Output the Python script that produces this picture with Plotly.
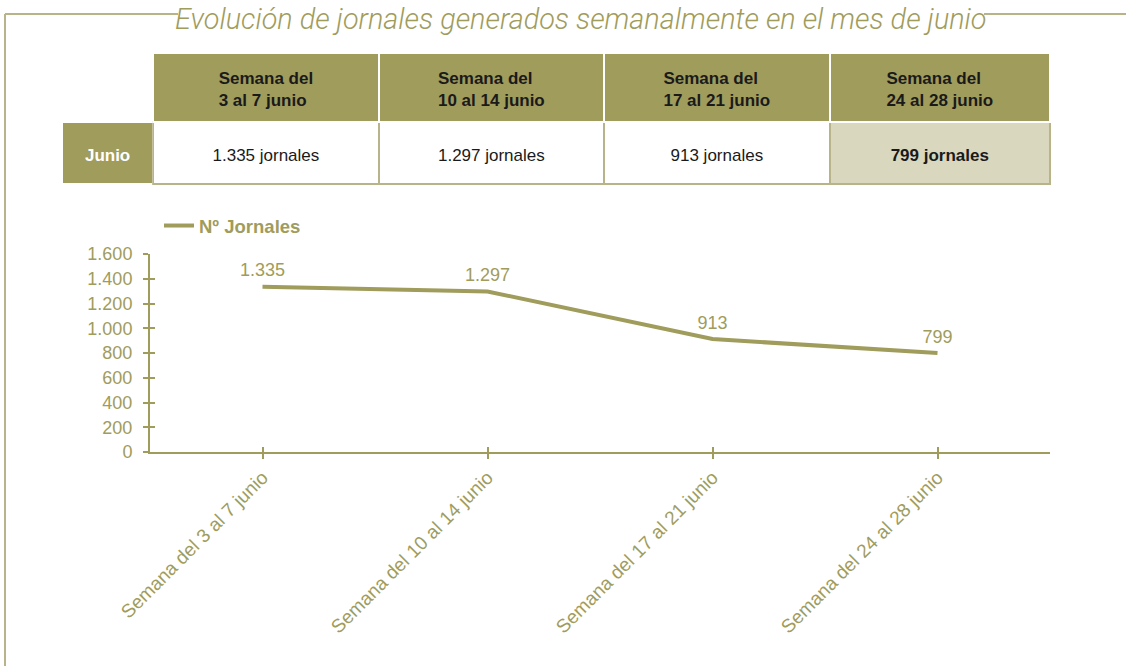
import plotly.graph_objects as go

# ---- data ----
semanas = ["Semana del 3 al 7 junio", "Semana del 10 al 14 junio",
           "Semana del 17 al 21 junio", "Semana del 24 al 28 junio"]
header_labels = ["Semana del<br>3 al 7 junio", "Semana del<br>10 al 14 junio",
                 "Semana del<br>17 al 21 junio", "Semana del<br>24 al 28 junio"]
jornales = [1335, 1297, 913, 799]
row_label = "Junio"
serie_nombre = "Nº Jornales"
titulo = "Evolución de jornales generados semanalmente en el mes de junio"
y_ticks = [0, 200, 400, 600, 800, 1000, 1200, 1400, 1600]

W, H = 1126, 666
OLIVE = "#A09C5C"
OLIVE_LINE = "#B8B48A"
BEIGE = "#D9D7BD"
TEXT = "#1A1A1A"
FONT = "Liberation Sans, Arial"

def px(x):
    return x / W

def py(y):
    return 1 - y / H

def fmt(v):
    return f"{v:,}".replace(",", ".")

# a tiny leading line pushes the text down inside the table cells
def pad(text, size):
    return f'<span style="font-size:{size}px">&nbsp;</span><br>' + text

header_vals = [""] + [pad("<b>" + h + "</b>", 1) for h in header_labels]
cell_vals = ([[pad("<b>" + row_label + "</b>", 10)]]
             + [[pad(f"{fmt(v)} jornales", 10)] for v in jornales[:-1]]
             + [[pad("<b>" + f"{fmt(jornales[-1])} jornales</b>", 10)]])

fig = go.Figure()

fig.add_trace(go.Table(
    domain=dict(x=[px(62), px(1050)], y=[py(187), py(53)]),
    columnwidth=[91, 225, 225, 225, 220],
    header=dict(
        values=header_vals,
        fill_color=["white"] + [OLIVE] * 4,
        line=dict(color="white", width=2),
        font=dict(family=FONT, size=17, color=TEXT),
        align="center",
        height=69,
    ),
    cells=dict(
        values=cell_vals,
        fill_color=[OLIVE, "white", "white", "white", BEIGE],
        line=dict(color=["white", OLIVE_LINE, OLIVE_LINE, OLIVE_LINE, OLIVE_LINE], width=2),
        font=dict(family=FONT, size=17, color=["white", TEXT, TEXT, TEXT, TEXT]),
        align="center",
        height=62,
    ),
))

xs = list(range(len(semanas)))
fig.add_trace(go.Scatter(
    x=xs, y=jornales, mode="lines+markers+text", name=serie_nombre,
    line=dict(color=OLIVE, width=4),
    marker=dict(size=8, color="rgba(0,0,0,0)"),
    text=[fmt(v) for v in jornales],
    textposition="top center",
    textfont=dict(family=FONT, size=18, color=OLIVE),
    cliponaxis=False,
))

axis_font = dict(family=FONT, size=18, color=OLIVE)
fig.update_layout(
    width=W, height=H,
    margin=dict(l=0, r=0, t=0, b=0, autoexpand=False),
    paper_bgcolor="white", plot_bgcolor="white",
    showlegend=True,
    legend=dict(x=px(159), y=py(207), xanchor="left", yanchor="top",
                font=dict(family=FONT, size=18.5, color=OLIVE, weight="bold"),
                bgcolor="rgba(0,0,0,0)"),
    xaxis=dict(domain=[px(150), px(1050)], range=[-0.5, len(semanas) - 0.5],
               tickvals=xs, ticktext=semanas, tickangle=-45,
               ticks="outside", ticklen=5, tickcolor=OLIVE, tickwidth=2,
               showline=True, linecolor=OLIVE, linewidth=2, showgrid=False, zeroline=False,
               tickfont=dict(family=FONT, size=19, color=OLIVE), automargin=False, anchor="y"),
    yaxis=dict(domain=[py(452), py(254)], range=[0, 1600],
               tickvals=y_ticks, tickformat=",d",
               ticks="outside", ticklen=5, tickcolor=OLIVE, tickwidth=2,
               showline=True, linecolor=OLIVE, linewidth=2, showgrid=False, zeroline=False,
               tickfont=axis_font, ticklabelstandoff=7, automargin=False, anchor="x"),
    xaxis2=dict(domain=[px(150), px(1050)], range=[-0.5, len(semanas) - 0.5],
                tickvals=xs + [len(semanas) - 0.5], showticklabels=False,
                ticks="inside", ticklen=5, tickcolor=OLIVE, tickwidth=2,
                showline=False, showgrid=False, zeroline=False,
                overlaying="x", anchor="y2", automargin=False),
    yaxis2=dict(domain=[py(452), py(254)], range=[0, 1600],
                tickvals=y_ticks, showticklabels=False,
                ticks="inside", ticklen=5, tickcolor=OLIVE, tickwidth=2,
                showline=False, showgrid=False, zeroline=False,
                overlaying="y", anchor="x2", automargin=False),
    separators=",.",
)

# invisible trace so the overlay axes (cross ticks) are drawn
fig.add_trace(go.Scatter(x=[None], y=[None], xaxis="x2", yaxis="y2",
                         showlegend=False, hoverinfo="skip"))

# title and frame
fig.add_annotation(text=titulo, xref="paper", yref="paper", x=px(581), y=py(0),
                   xanchor="center", yanchor="top", showarrow=False,
                   font=dict(family="Roboto", size=28.8, color=OLIVE, style="italic", weight=300))
fig.add_shape(type="line", xref="paper", yref="paper", x0=px(5), x1=px(178), y0=py(14), y1=py(14),
              line=dict(color=OLIVE_LINE, width=2))
fig.add_shape(type="line", xref="paper", yref="paper", x0=px(984), x1=px(1126), y0=py(14), y1=py(14),
              line=dict(color=OLIVE_LINE, width=2))
fig.add_shape(type="line", xref="paper", yref="paper", x0=px(5), x1=px(5), y0=py(14), y1=py(666),
              line=dict(color=OLIVE_LINE, width=2))

fig.write_html("out.html", config={"displayModeBar": False},
               post_script="document.body.style.margin='0';")
